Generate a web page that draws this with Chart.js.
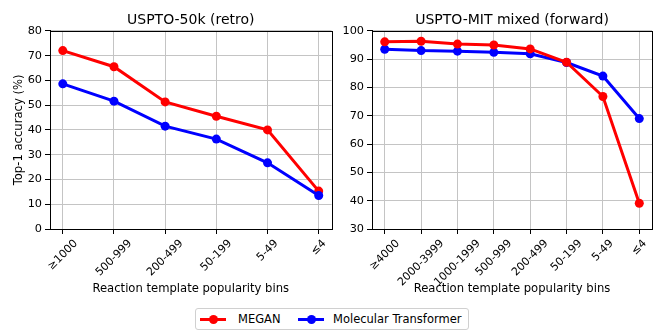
<!DOCTYPE html>
<html>
<head>
<meta charset="utf-8">
<script src="https://cdn.jsdelivr.net/npm/chart.js@4.4.1/dist/chart.umd.min.js"></script>
<style>
  body { margin: 0; background: #fff; font-family: "DejaVu Sans", sans-serif; }
  #wrap { position: relative; width: 664px; height: 332px; }
  canvas { position: absolute; top: 0; }
  #legend {
    position: absolute; left: 195px; top: 308px; width: 272px; height: 20px;
    border: 1px solid #d0d0d0; border-radius: 3px; font-size: 11.5px; color: #000;
  }
  .item { position: absolute; top: 0; height: 20px; line-height: 20px; }
  .sym { position: absolute; top: 9px; width: 26px; height: 3px; }
  .sym i { position: absolute; left: 9px; top: -3px; width: 9px; height: 9px; border-radius: 50%; }
</style>
</head>
<body>
<div id="wrap">
  <canvas id="retroChart" width="336" height="300" style="left:0"></canvas>
  <canvas id="fwdChart" width="332" height="300" style="left:332px"></canvas>
  <div id="legend">
    <div class="item" style="left:4px"><span class="sym" style="background:#ff0000"><i style="background:#ff0000"></i></span><span style="margin-left:38px">MEGAN</span></div>
    <div class="item" style="left:102px"><span class="sym" style="background:#0000ff"><i style="background:#0000ff"></i></span><span style="margin-left:35px">Molecular Transformer</span></div>
  </div>
</div>
<script>
// USPTO-50k (retro)
const retroBins = ["≥1000", "500-999", "200-499", "50-199", "5-49", "≤4"];
const retroMegan = [72.0, 65.5, 51.3, 45.5, 40.0, 15.3];
const retroTransformer = [58.6, 51.6, 41.5, 36.3, 26.7, 13.5];
const retroTicks = [0, 10, 20, 30, 40, 50, 60, 70, 80];

// USPTO-MIT mixed (forward)
const fwdBins = ["≥4000", "2000-3999", "1000-1999", "500-999", "200-499", "50-199", "5-49", "≤4"];
const fwdMegan = [96.1, 96.3, 95.3, 95.0, 93.6, 88.9, 76.8, 39.1];
const fwdTransformer = [93.5, 93.0, 92.8, 92.4, 91.9, 88.8, 84.0, 69.0];
const fwdTicks = [30, 40, 50, 60, 70, 80, 90, 100];

Chart.defaults.font.family = "DejaVu Sans";
Chart.defaults.color = "#000";
Chart.defaults.animation = false;

// black box around the plot area, like matplotlib spines
const frame = {
  id: "frame",
  afterDraw(chart) {
    const a = chart.chartArea;
    const ctx = chart.ctx;
    ctx.save();
    ctx.strokeStyle = "#000";
    ctx.lineWidth = 1;
    ctx.strokeRect(Math.round(a.left) + 0.5, Math.round(a.top) + 0.5,
      Math.round(a.right - a.left), Math.round(a.bottom - a.top));
    ctx.restore();
  },
};

// rotated x labels, centred under the tick (matplotlib style)
const binLabels = {
  id: "binLabels",
  afterDraw(chart, args, opts) {
    const scale = chart.scales.x;
    const ctx = chart.ctx;
    const top = chart.chartArea.bottom + 10;
    ctx.save();
    ctx.font = "11px 'DejaVu Sans'";
    ctx.fillStyle = "#000";
    ctx.textAlign = "center";
    ctx.textBaseline = "middle";
    opts.bins.forEach((b, i) => {
      const w = ctx.measureText(b).width;
      const half = (w + 8) * Math.SQRT1_2 / 2;
      ctx.save();
      ctx.translate(scale.getPixelForValue(i), top + half);
      ctx.rotate(-Math.PI / 4);
      ctx.fillText(b, 0, 0);
      ctx.restore();
    });
    ctx.restore();
  },
};

function toPoints(values) {
  return values.map((v, i) => ({ x: i, y: v }));
}

function renderChart(el, title, bins, megan, transformer, yTicks, opts) {
  const ctx = document.querySelector(el).getContext("2d");
  const pad = bins.length * 0.05 - 0.05;

  const meganSet = {
    label: "MEGAN", data: toPoints(megan),
    borderColor: "#ff0000", backgroundColor: "#ff0000",
    borderWidth: 3, pointRadius: 4.5, pointBorderWidth: 0, order: opts.meganOrder,
  };
  const transSet = {
    label: "Molecular Transformer", data: toPoints(transformer),
    borderColor: "#0000ff", backgroundColor: "#0000ff",
    borderWidth: 3, pointRadius: 4.5, pointBorderWidth: 0, order: opts.transOrder,
  };

  new Chart(ctx, {
    type: "line",
    data: { datasets: [meganSet, transSet] },
    plugins: [frame, binLabels],
    options: {
      responsive: false,
      layout: { padding: { left: 0, right: opts.right, top: 0, bottom: 0 } },
      plugins: {
        legend: { display: false },
        tooltip: { enabled: false },
        binLabels: { bins },
        title: {
          display: true, text: title, fullSize: false,
          font: { size: 14, weight: "normal" },
          padding: { top: 12, bottom: 2 },
        },
      },
      scales: {
        x: {
          type: "linear",
          min: -pad, max: bins.length - 1 + pad,
          afterBuildTicks: (scale) => {
            scale.ticks = bins.map((b, i) => ({ value: i }));
          },
          afterFit: (scale) => {
            scale.height = 71;
            scale.paddingLeft = 0;
            scale.paddingRight = 0;
          },
          ticks: { display: false },
          grid: { color: "#c4c4c4", tickColor: "#000", tickLength: 5, lineWidth: 1 },
          border: { color: "#000" },
          title: {
            display: true, text: "Reaction template popularity bins",
            font: { size: 11.6 }, padding: { top: 0, bottom: 4 },
          },
        },
        y: {
          min: yTicks[0], max: yTicks[yTicks.length - 1],
          afterBuildTicks: (scale) => {
            scale.ticks = yTicks.map((t) => ({ value: t }));
          },
          afterFit: (scale) => { scale.width = opts.yWidth; },
          ticks: { font: { size: 11.3 }, padding: 3 },
          grid: { color: "#c4c4c4", tickColor: "#000", tickLength: 5, lineWidth: 1 },
          border: { color: "#000" },
          title: {
            display: opts.yTitle, text: "Top-1 accuracy (%)",
            font: { size: 11.6 }, padding: { top: 12, bottom: 0 },
          },
        },
      },
    },
  });
}

renderChart("#retroChart", "USPTO-50k (retro)", retroBins, retroMegan, retroTransformer, retroTicks,
  { right: 1, yWidth: 50, yTitle: true, meganOrder: 2, transOrder: 1 });
renderChart("#fwdChart", "USPTO-MIT mixed (forward)", fwdBins, fwdMegan, fwdTransformer, fwdTicks,
  { right: 12, yWidth: 40, yTitle: false, meganOrder: 1, transOrder: 2 });
</script>
</body>
</html>
